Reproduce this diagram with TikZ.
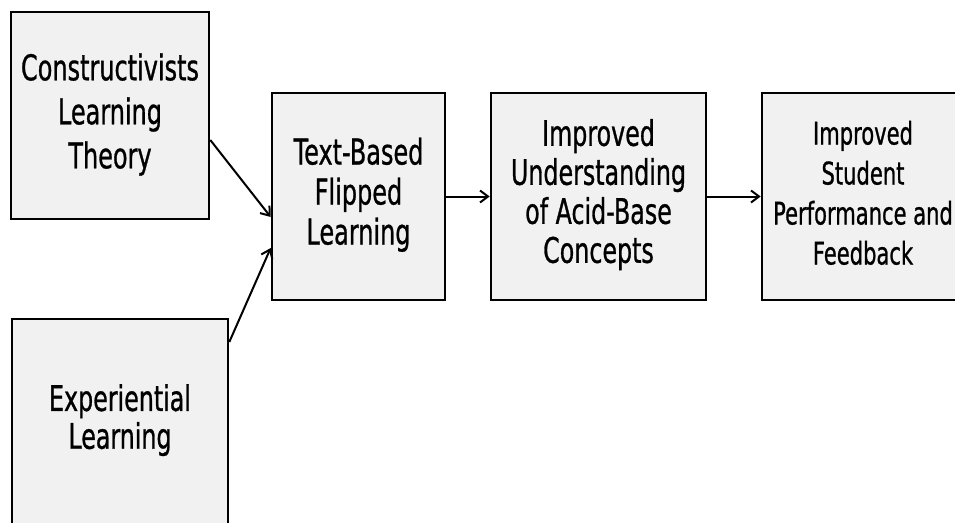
\documentclass[tikz,border=0pt]{standalone}
\usepackage{fontspec}
\setmainfont{DejaVu Sans}[FakeStretch=0.675,FakeBold=0.8]
\usetikzlibrary{arrows.meta}
\definecolor{boxgray}{HTML}{F1F1F1}
\newcommand{\mylines}[2]{\raisebox{#1}{\begin{tabular}{@{}c@{}}#2\end{tabular}}}
\begin{document}
\begin{tikzpicture}[x=1pt,y=-1pt,
  box/.style={draw=black, line width=2.6pt, fill=boxgray, rectangle, inner sep=0pt, text=black},
  conn/.style={line width=2pt, -{Straight Barb[length=8pt,width=12pt]}}]
\useasboundingbox (0,0) rectangle (955,522);
\fill[white] (0,0) rectangle (955,522);
\clip (0,0) rectangle (955,522);
\node[box, minimum width=198pt, minimum height=207pt, font=\fontsize{35.5}{44}\selectfont] (b1) at (110,115.5) {\mylines{-4.5pt}{Constructivists\\Learning\\Theory}};
\node[box, minimum width=216pt, minimum height=206pt, font=\fontsize{35.2}{37}\selectfont] (b2) at (120,422) {\mylines{-2pt}{Experiential\\Learning}};
\node[box, minimum width=173pt, minimum height=207pt, font=\fontsize{35.5}{40}\selectfont] (b3) at (358.5,196.5) {\mylines{1.5pt}{Text-Based\\Flipped\\Learning}};
\node[box, minimum width=215pt, minimum height=207pt, font=\fontsize{35.2}{39}\selectfont] (b4) at (598.5,196.5) {\mylines{5.8pt}{Improved\\Understanding\\of Acid-Base\\Concepts}};
\node[box, minimum width=202pt, minimum height=207pt, font=\fontsize{31.2}{40}\selectfont] (b5) at (863,196.5) {\mylines{-2.5pt}{Improved\\Student\\Performance and\\Feedback}};
\draw[conn] ([yshift=-24.5pt]b1.east) -- ([yshift=-20.5pt]b3.west);
\draw[conn] ([yshift=80pt]b2.east) -- ([yshift=-51.5pt]b3.west);
\draw[conn] (b3.east) -- (b4.west);
\draw[conn] (b4.east) -- (b5.west);
\end{tikzpicture}
\end{document}
